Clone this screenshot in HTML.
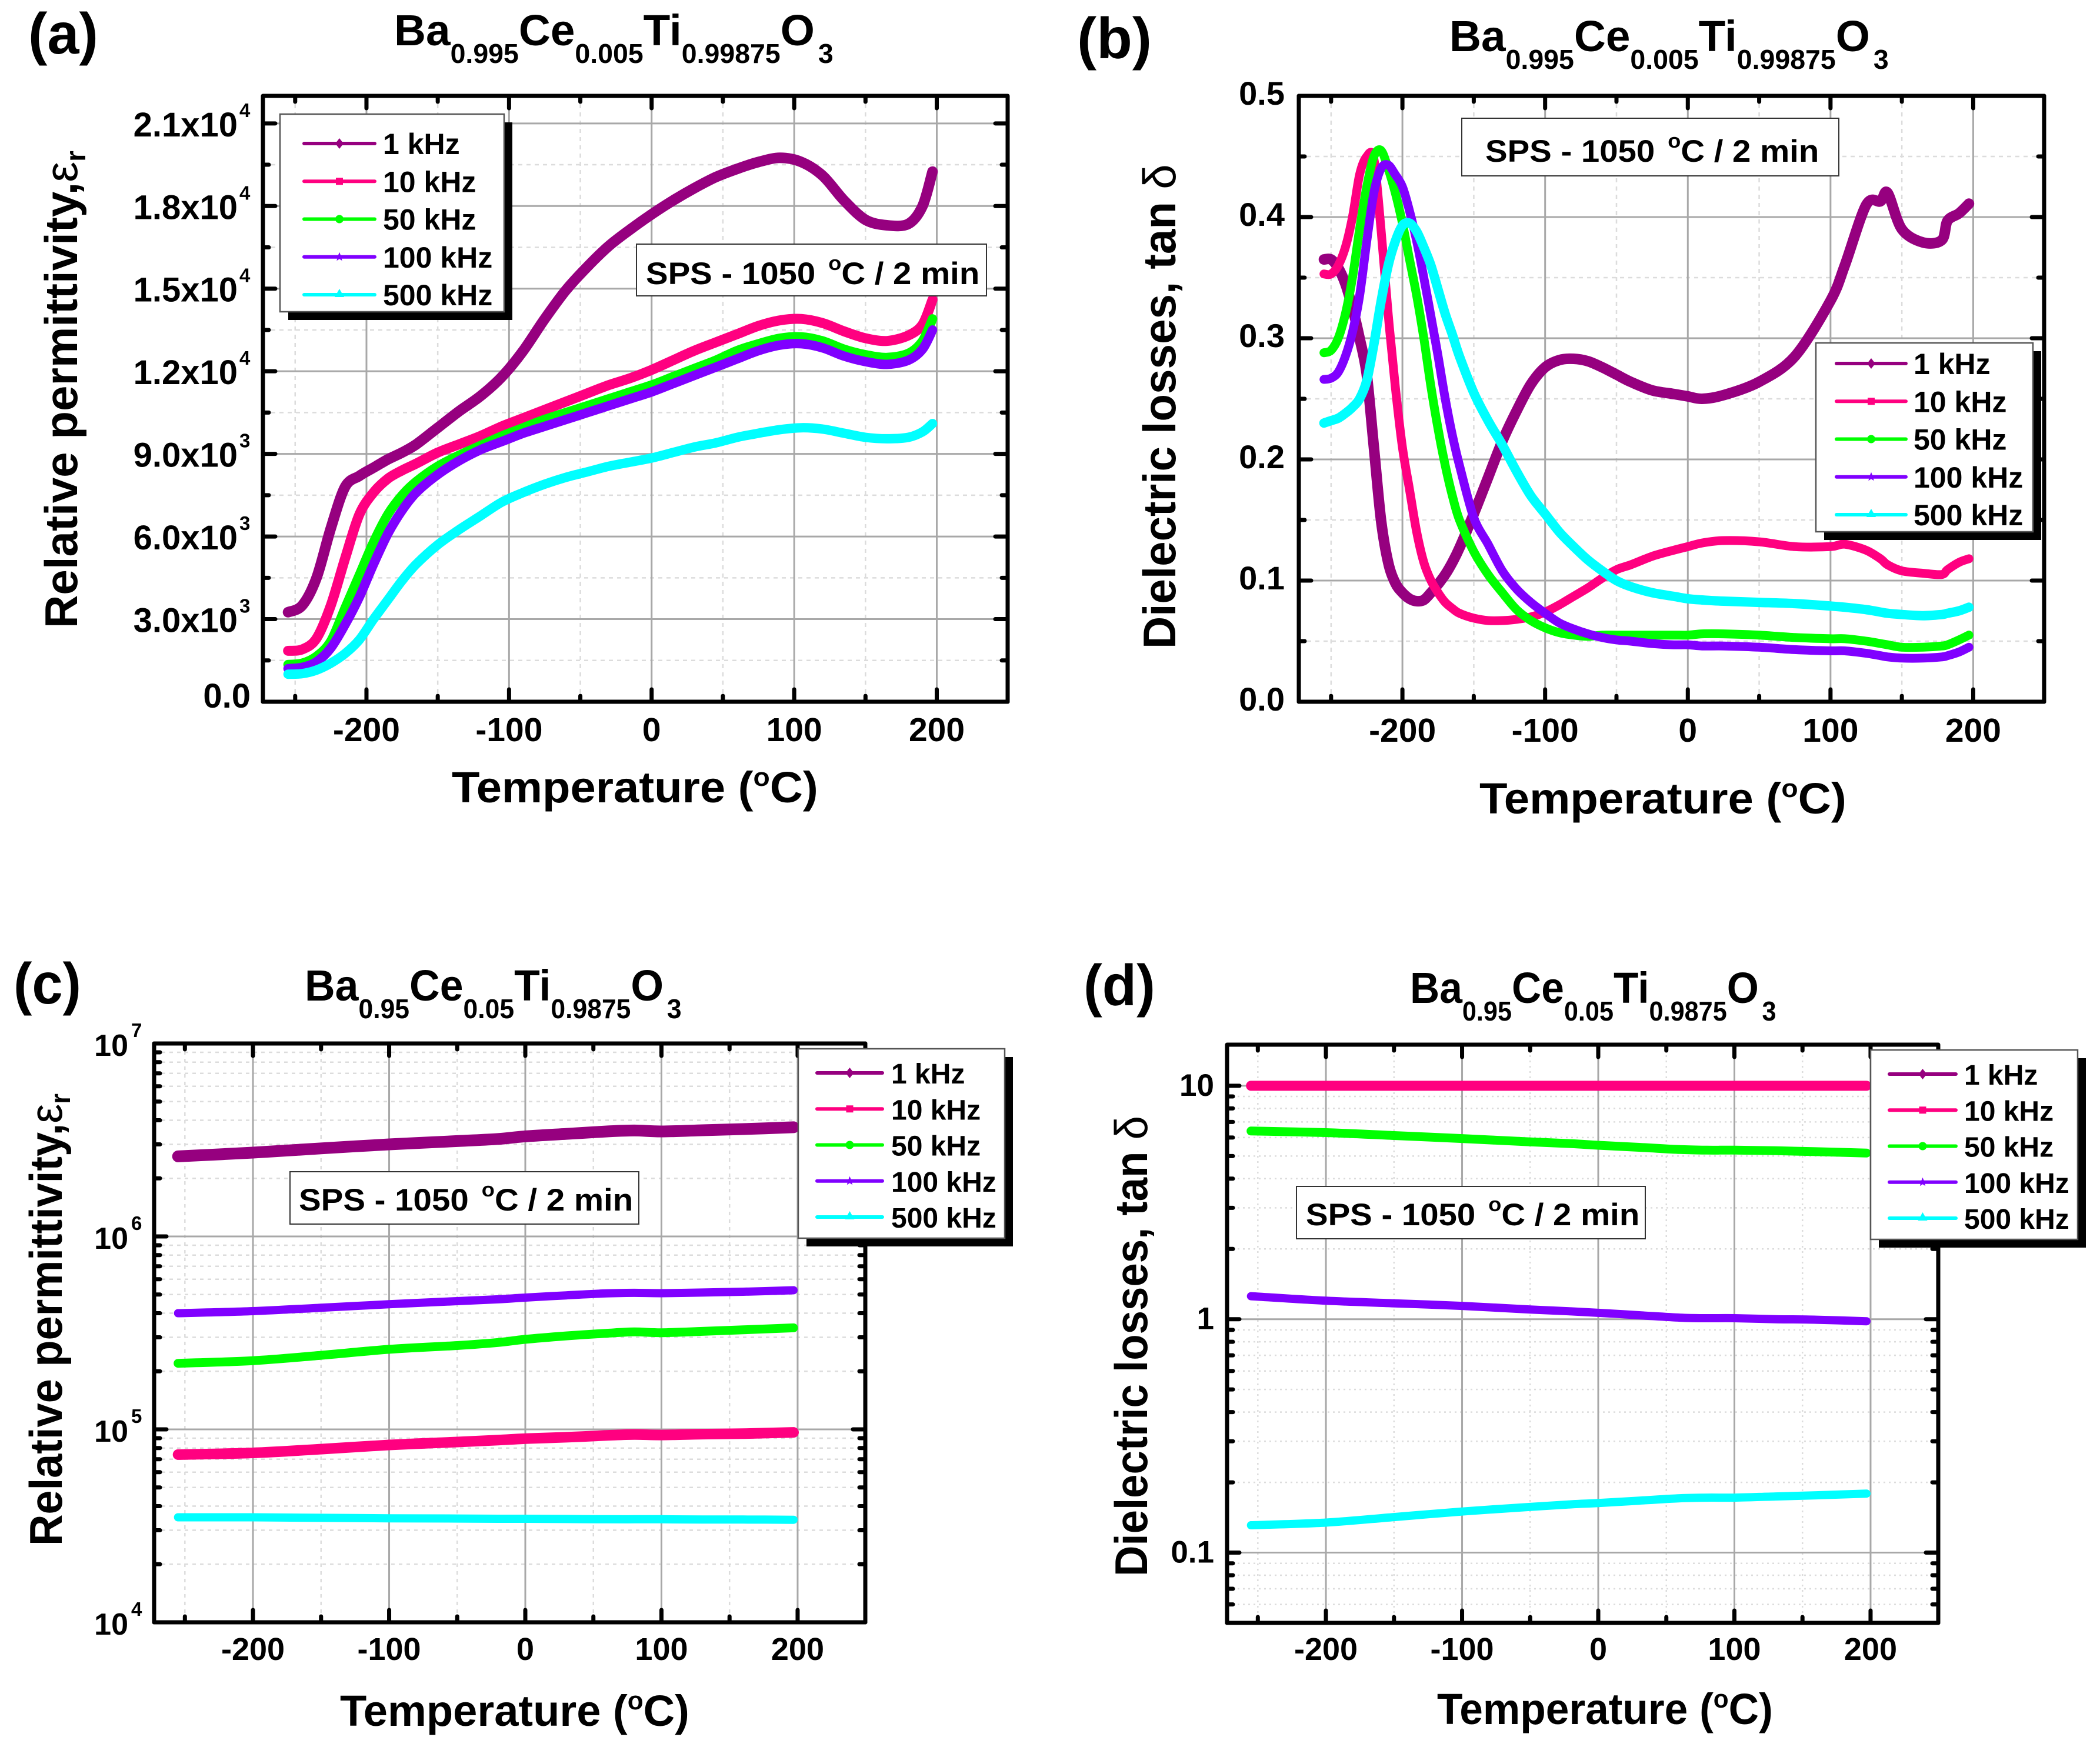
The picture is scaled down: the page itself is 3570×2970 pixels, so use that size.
<!DOCTYPE html>
<html>
<head>
<meta charset="utf-8">
<title>Dielectric properties of Ba-Ce-Ti-O ceramics</title>
<style>
html,body{margin:0;padding:0;background:#fff;}
svg{display:block;}
text{font-family:"Liberation Sans",sans-serif;font-weight:bold;fill:#000;}
.panel-label{font-size:98px;}
.title{font-size:74px;}
.axis-title{font-size:74px;}
.y-title{font-size:78px;}
.sps{font-size:53px;}
.sym{font-weight:normal;}
</style>
</head>
<body>
<svg id="fig" xmlns="http://www.w3.org/2000/svg" width="3570" height="2970" viewBox="0 0 3570 2970">
  <rect x="0" y="0" width="3570" height="2970" fill="#fff"/>
  <g id="plots"></g>

  <text class="panel-label" data-w="119" x="48" y="91">(a)</text>
  <text class="panel-label" data-w="127" x="1831" y="99">(b)</text>
  <text class="panel-label" data-w="115" x="23" y="1706">(c)</text>
  <text class="panel-label" data-w="122" x="1842" y="1709">(d)</text>

  <text class="title" data-w="741" x="670" y="77">Ba<tspan font-size="46" dy="30">0.995</tspan><tspan dy="-30">Ce</tspan><tspan font-size="46" dy="30">0.005</tspan><tspan dy="-30">Ti</tspan><tspan font-size="46" dy="30">0.99875</tspan><tspan dy="-30">O</tspan><tspan font-size="46" dy="30" dx="6">3</tspan></text>
  <text class="title" data-w="741" x="2464" y="87">Ba<tspan font-size="46" dy="30">0.995</tspan><tspan dy="-30">Ce</tspan><tspan font-size="46" dy="30">0.005</tspan><tspan dy="-30">Ti</tspan><tspan font-size="46" dy="30">0.99875</tspan><tspan dy="-30">O</tspan><tspan font-size="46" dy="30" dx="6">3</tspan></text>
  <text class="title" data-w="635" x="518" y="1701">Ba<tspan font-size="46" dy="30">0.95</tspan><tspan dy="-30">Ce</tspan><tspan font-size="46" dy="30">0.05</tspan><tspan dy="-30">Ti</tspan><tspan font-size="46" dy="30">0.9875</tspan><tspan dy="-30">O</tspan><tspan font-size="46" dy="30" dx="6">3</tspan></text>
  <text class="title" data-w="617" x="2397" y="1705">Ba<tspan font-size="46" dy="30">0.95</tspan><tspan dy="-30">Ce</tspan><tspan font-size="46" dy="30">0.05</tspan><tspan dy="-30">Ti</tspan><tspan font-size="46" dy="30">0.9875</tspan><tspan dy="-30">O</tspan><tspan font-size="46" dy="30" dx="6">3</tspan></text>

  <text class="axis-title" data-w="623" x="768" y="1364">Temperature (<tspan font-size="44" dy="-28">o</tspan><tspan dy="28">C)</tspan></text>
  <text class="axis-title" data-w="624" x="2515" y="1383">Temperature (<tspan font-size="44" dy="-28">o</tspan><tspan dy="28">C)</tspan></text>
  <text class="axis-title" data-w="594" x="578" y="2934">Temperature (<tspan font-size="44" dy="-28">o</tspan><tspan dy="28">C)</tspan></text>
  <text class="axis-title" data-w="571" x="2443" y="2931">Temperature (<tspan font-size="44" dy="-28">o</tspan><tspan dy="28">C)</tspan></text>

  <text class="y-title" data-w="812" data-r="-90" x="131" y="1068">Relative permittivity,<tspan class="sym">ε</tspan><tspan font-size="48" dy="14">r</tspan></text>
  <text class="y-title" data-w="824" data-r="-90" x="1998" y="1103">Dielectric losses, tan <tspan class="sym">δ</tspan></text>
  <text class="y-title" data-w="769" data-r="-90" x="105" y="2628">Relative permittivity,<tspan class="sym">ε</tspan><tspan font-size="48" dy="14">r</tspan></text>
  <text class="y-title" data-w="783" data-r="-90" x="1950" y="2680">Dielectric losses, tan <tspan class="sym">δ</tspan></text>

  <g>
    <rect x="1082" y="415" width="595" height="88" fill="#fff" stroke="#333" stroke-width="2"/>
    <text class="sps" data-w="561" x="1098" y="483">SPS - 1050 <tspan font-size="34" dy="-24" dx="6">o</tspan><tspan dy="24">C / 2 min</tspan></text>
  </g>
  <g>
    <rect x="2485" y="201" width="641" height="98" fill="#fff" stroke="#333" stroke-width="2"/>
    <text class="sps" data-w="561" x="2525" y="275">SPS - 1050 <tspan font-size="34" dy="-24" dx="6">o</tspan><tspan dy="24">C / 2 min</tspan></text>
  </g>
  <g>
    <rect x="493" y="1992" width="593" height="89" fill="#fff" stroke="#333" stroke-width="2"/>
    <text class="sps" data-w="562" x="508" y="2058">SPS - 1050 <tspan font-size="34" dy="-24" dx="6">o</tspan><tspan dy="24">C / 2 min</tspan></text>
  </g>
  <g>
    <rect x="2204" y="2017" width="593" height="89" fill="#fff" stroke="#333" stroke-width="2"/>
    <text class="sps" data-w="561" x="2220" y="2083">SPS - 1050 <tspan font-size="34" dy="-24" dx="6">o</tspan><tspan dy="24">C / 2 min</tspan></text>
  </g>
</svg>

<script>
// ---------- shared ----------
const frequencyLabels = ['1 kHz', '10 kHz', '50 kHz', '100 kHz', '500 kHz'];
const seriesColors = ['#96007f', '#ff0080', '#00ff00', '#8000ff', '#00ffff'];
const xTickLabels = [-200, -100, 0, 100, 200];
const xMinorTicks = [-250, -150, -50, 50, 150];

// ---------- panel (a) ----------
const tempA = [-255,-245,-235,-225,-215,-205,-195,-185,-175,-165,-150,-135,-120,-105,-90,-75,-60,-45,-30,-15,0,15,30,45,60,75,90,105,120,135,150,165,180,190,197];
const a1k = [3250,3500,4500,6300,7800,8200,8500,8800,9050,9350,9950,10550,11100,11800,12750,13900,14950,15800,16550,17150,17700,18200,18650,19050,19350,19600,19750,19600,19100,18200,17500,17300,17350,18000,19250];
const a10k = [1850,1900,2300,3500,5200,6800,7600,8100,8400,8650,9050,9350,9650,10000,10300,10600,10900,11200,11500,11750,12050,12400,12750,13050,13350,13650,13850,13900,13750,13450,13200,13100,13300,13700,14600];
const a50k = [1350,1400,1650,2200,3400,4600,5800,6800,7500,8000,8550,8950,9300,9650,9950,10250,10500,10750,11000,11250,11500,11800,12100,12400,12750,13000,13200,13250,13100,12800,12600,12500,12650,13100,13900];
const a100k = [1200,1250,1450,1950,2800,3800,5000,6100,6950,7600,8250,8750,9150,9450,9750,10000,10250,10500,10750,11000,11250,11550,11850,12150,12450,12750,12950,13000,12850,12550,12350,12250,12400,12800,13500];
const a500k = [1000,1020,1150,1400,1750,2250,3000,3700,4400,5000,5700,6250,6750,7250,7600,7900,8150,8350,8550,8700,8850,9050,9250,9400,9600,9750,9880,9950,9900,9750,9600,9550,9600,9800,10100];
const aMajorTicks = [0,3000,6000,9000,12000,15000,18000,21000];
const aMinorTicks = [1500,4500,7500,10500,13500,16500,19500];
const aTickMantissa = ['0.0','3.0x10','6.0x10','9.0x10','1.2x10','1.5x10','1.8x10','2.1x10'];
const aTickExponent = ['','3','3','3','4','4','4','4'];

// ---------- panel (b) ----------
const tempB = [-255,-250,-245,-240,-235,-230,-225,-220,-215,-210,-205,-200,-195,-190,-185,-180,-175,-170,-165,-160,-150,-140,-130,-120,-110,-100,-90,-80,-70,-60,-50,-40,-25,-10,0,10,25,50,75,100,110,125,135,140,150,165,178,182,190,197];
const b1k = [.365,.365,.358,.345,.325,.30,.27,.21,.15,.115,.098,.09,.085,.083,.084,.09,.097,.105,.115,.127,.155,.185,.215,.24,.262,.276,.282,.283,.281,.276,.27,.264,.257,.254,.252,.25,.253,.264,.285,.331,.36,.41,.413,.42,.39,.379,.381,.397,.403,.411];
const b10k = [.353,.353,.36,.375,.40,.435,.45,.448,.39,.32,.26,.21,.175,.14,.115,.10,.09,.082,.077,.073,.069,.067,.067,.068,.07,.074,.08,.087,.094,.102,.109,.113,.12,.125,.128,.131,.133,.132,.128,.128,.13,.125,.118,.113,.108,.106,.105,.109,.115,.118];
const b50k = [.288,.29,.30,.32,.35,.39,.425,.45,.455,.44,.42,.395,.365,.335,.30,.26,.225,.195,.17,.15,.124,.105,.09,.076,.067,.061,.057,.055,.054,.055,.055,.055,.055,.055,.055,.056,.056,.055,.053,.052,.052,.05,.048,.047,.045,.045,.046,.047,.051,.055];
const b100k = [.266,.267,.272,.285,.305,.335,.38,.42,.44,.443,.435,.425,.405,.38,.35,.318,.285,.25,.22,.195,.152,.13,.108,.093,.082,.073,.065,.06,.056,.053,.051,.05,.048,.047,.047,.046,.046,.045,.043,.042,.042,.04,.038,.037,.036,.036,.037,.038,.041,.045];
const b500k = [.23,.232,.234,.238,.243,.25,.265,.295,.33,.36,.38,.393,.395,.388,.375,.36,.34,.32,.303,.285,.255,.232,.212,.19,.17,.155,.14,.128,.117,.108,.10,.095,.09,.087,.085,.084,.083,.082,.081,.079,.078,.076,.074,.073,.072,.071,.072,.073,.075,.078];
const bMajorTicks = [0,.1,.2,.3,.4,.5];
const bMinorTicks = [.05,.15,.25,.35,.45];
const bTickLabels = ['0.0','0.1','0.2','0.3','0.4','0.5'];

// ---------- panel (c) ----------
const tempC = [-255,-200,-150,-100,-50,-20,0,30,60,80,100,130,160,197];
const c1k = [2.6e6,2.72e6,2.86e6,3.0e6,3.12e6,3.2e6,3.3e6,3.4e6,3.5e6,3.54e6,3.5e6,3.55e6,3.6e6,3.68e6];
const c10k = [7.4e4,7.55e4,7.9e4,8.3e4,8.6e4,8.8e4,8.95e4,9.1e4,9.3e4,9.4e4,9.35e4,9.45e4,9.5e4,9.65e4];
const c50k = [2.2e5,2.27e5,2.42e5,2.6e5,2.72e5,2.82e5,2.93e5,3.05e5,3.15e5,3.2e5,3.17e5,3.22e5,3.28e5,3.36e5];
const c100k = [4.0e5,4.1e5,4.27e5,4.45e5,4.62e5,4.72e5,4.82e5,4.95e5,5.07e5,5.1e5,5.08e5,5.12e5,5.17e5,5.26e5];
const c500k = [3.5e4,3.5e4,3.48e4,3.46e4,3.45e4,3.44e4,3.44e4,3.43e4,3.42e4,3.42e4,3.42e4,3.41e4,3.41e4,3.4e4];
const cMajorTicks = [1e4,1e5,1e6,1e7];
const cMinorTicks = [2e4,3e4,4e4,5e4,6e4,7e4,8e4,9e4,2e5,3e5,4e5,5e5,6e5,7e5,8e5,9e5,2e6,3e6,4e6,5e6,6e6,7e6,8e6,9e6];
const cTickMantissa = ['10','10','10','10'];
const cTickExponent = ['4','5','6','7'];

// ---------- panel (d) ----------
const tempD = [-255,-200,-150,-100,-50,-20,0,30,60,80,100,130,160,197];
const d1k = [10,10,10,10,10,10,10,10,10,10,10,10,10,10];
const d10k = [10,10,10,10,10,10,10,10,10,10,10,10,10,10];
const d50k = [6.4,6.3,6.12,5.94,5.75,5.65,5.56,5.45,5.33,5.3,5.3,5.27,5.22,5.15];
const d100k = [1.255,1.2,1.17,1.14,1.1,1.08,1.065,1.04,1.015,1.01,1.01,1.0,0.995,0.98];
const d500k = [.131,.1345,.142,.15,.157,.161,.163,.167,.171,.172,.172,.174,.176,.179];
const dMajorTicks = [.1,1,10];
const dMinorTicks = [.05,.06,.07,.08,.09,.2,.3,.4,.5,.6,.7,.8,.9,2,3,4,5,6,7,8,9];
const dTickLabels = ['0.1','1','10'];

// ---------- drawing ----------
const NS = 'http://www.w3.org/2000/svg';
const plots = document.getElementById('plots');

function mk(tag, attrs, parent) {
  const e = document.createElementNS(NS, tag);
  for (const k in attrs) e.setAttribute(k, attrs[k]);
  parent.appendChild(e);
  return e;
}

function smoothPath(pts) {
  let d = 'M' + pts[0][0].toFixed(1) + ' ' + pts[0][1].toFixed(1);
  for (let i = 0; i < pts.length - 1; i++) {
    const p0 = pts[Math.max(0, i - 1)], p1 = pts[i], p2 = pts[i + 1], p3 = pts[Math.min(pts.length - 1, i + 2)];
    const k = 0.16;
    const c1x = p1[0] + (p2[0] - p0[0]) * k, c1y = p1[1] + (p2[1] - p0[1]) * k;
    const c2x = p2[0] - (p3[0] - p1[0]) * k, c2y = p2[1] - (p3[1] - p1[1]) * k;
    d += 'C' + c1x.toFixed(1) + ' ' + c1y.toFixed(1) + ' ' + c2x.toFixed(1) + ' ' + c2y.toFixed(1) + ' ' + p2[0].toFixed(1) + ' ' + p2[1].toFixed(1);
  }
  return d;
}

function markerShape(i, cx, cy, color, parent) {
  let e;
  if (i === 0) e = mk('polygon', {points: [cx, cy - 9, cx + 7, cy, cx, cy + 9, cx - 7, cy].join(' '), fill: color}, parent);
  else if (i === 1) e = mk('rect', {x: cx - 6, y: cy - 6, width: 12, height: 12, fill: color}, parent);
  else if (i === 2) e = mk('circle', {cx: cx, cy: cy, r: 7, fill: color}, parent);
  else if (i === 3) {
    const p = [];
    for (let a = 0; a < 10; a++) {
      const r = a % 2 ? 3.5 : 8, t = -Math.PI / 2 + a * Math.PI / 5;
      p.push((cx + r * Math.cos(t)).toFixed(1), (cy + r * Math.sin(t)).toFixed(1));
    }
    e = mk('polygon', {points: p.join(' '), fill: color}, parent);
  } else e = mk('polygon', {points: [cx, cy - 10, cx + 8, cy + 4, cx - 8, cy + 4].join(' '), fill: color}, parent);
  
  
}

function drawPanel(cfg) {
  const f = cfg.frame;
  const g = mk('g', {}, plots);
  
  

  const xs = T => f.l + (T - cfg.xDomain[0]) * (f.r - f.l) / (cfg.xDomain[1] - cfg.xDomain[0]);
  const tr = cfg.log ? Math.log10 : (v => v);
  const y0 = tr(cfg.yDomain[0]), y1 = tr(cfg.yDomain[1]);
  const ys = v => f.b - (tr(v) - y0) * (f.b - f.t) / (y1 - y0);

  // gridlines
  xMinorTicks.forEach(T => {
    const l = mk('line', {x1: xs(T), x2: xs(T), y1: f.t, y2: f.b, stroke: '#dcdcdc', 'stroke-width': 2.5, 'stroke-dasharray': cfg.minorDash}, g);
    
    
  });
  cfg.yMinor.forEach(v => {
    const l = mk('line', {x1: f.l, x2: f.r, y1: ys(v), y2: ys(v), stroke: '#dcdcdc', 'stroke-width': 2.5, 'stroke-dasharray': cfg.minorDash}, g);
    
    
  });
  xTickLabels.forEach(T => {
    const l = mk('line', {x1: xs(T), x2: xs(T), y1: f.t, y2: f.b, stroke: '#a8a8a8', 'stroke-width': 3}, g);
    
    
  });
  cfg.yMajor.forEach(v => {
    const l = mk('line', {x1: f.l, x2: f.r, y1: ys(v), y2: ys(v), stroke: '#a8a8a8', 'stroke-width': 3}, g);
    
    
  });

  // series
  cfg.series.forEach((vals, i) => {
    const pts = vals.map((v, k) => [xs(cfg.temps[k]), ys(v)]);
    const p = mk('path', {d: smoothPath(pts), fill: 'none', stroke: seriesColors[i], 'stroke-width': cfg.widths[i], 'stroke-linejoin': 'round', 'stroke-linecap': 'round'}, g);
    
    
  });

  // frame
  const frame = mk('rect', {x: f.l, y: f.t, width: f.r - f.l, height: f.b - f.t, fill: 'none', stroke: '#000', 'stroke-width': 7, 'stroke-linejoin': 'round'}, g);
  
  

  // ticks (inward, on all four sides)
  function xTick(T, len, name) {
    [[f.b, -1], [f.t, 1]].forEach(s => {
      const l = mk('line', {x1: xs(T), x2: xs(T), y1: s[0], y2: s[0] + s[1] * len, stroke: '#000', 'stroke-width': 7, 'stroke-linecap': 'round'}, g);
      
      
    });
  }
  function yTick(v, len, name) {
    [[f.l, 1], [f.r, -1]].forEach(s => {
      const l = mk('line', {x1: s[0], x2: s[0] + s[1] * len, y1: ys(v), y2: ys(v), stroke: '#000', 'stroke-width': 7, 'stroke-linecap': 'round'}, g);
      
      
    });
  }
  xMinorTicks.forEach(T => xTick(T, 10, 'x-minor-tick'));
  xTickLabels.forEach(T => xTick(T, 21, 'x-major-tick'));
  cfg.yMinor.forEach(v => yTick(v, 10, 'y-minor-tick'));
  cfg.yMajor.forEach(v => yTick(v, 21, 'y-major-tick'));

  // x tick labels
  xTickLabels.forEach(T => {
    const t = mk('text', {x: xs(T), y: cfg.xLabelY, 'text-anchor': 'middle', 'font-size': cfg.xLabelSize}, g);
    t.textContent = String(T);
    
    
  });

  // y tick labels
  cfg.yMajor.forEach((v, i) => {
    const t = mk('text', {'text-anchor': 'end', 'font-size': cfg.yLabelSize, x: cfg.yLabelX, y: ys(v) + cfg.yLabelDy + ((cfg.yLabelOffsets && cfg.yLabelOffsets[i]) || 0)}, g);
    t.textContent = cfg.yLabels[i];
    const exp = cfg.yExp ? cfg.yExp[i] : '';
    if (exp) {
      t.setAttribute('x', cfg.yLabelX - cfg.expWidth);
      const s = mk('text', {x: cfg.yLabelX - cfg.expWidth + cfg.expGap, y: ys(v) - 11, 'font-size': 33}, g);
      s.textContent = exp;
      
      
    }
    
    
  });

  // legend
  const L = cfg.legend;
  const leg = mk('g', {}, g);
  
  
  const sh = mk('rect', {x: L.x + 14, y: L.y + 14, width: L.w, height: L.h, fill: '#000'}, leg);
  
  
  const box = mk('rect', {x: L.x, y: L.y, width: L.w, height: L.h, fill: '#fff', stroke: '#555', 'stroke-width': 2.5}, leg);
  
  
  frequencyLabels.forEach((lab, i) => {
    const ry = L.rowY + i * L.rowH;
    const ln = mk('line', {x1: L.lineX, x2: L.lineX + L.lineW, y1: ry, y2: ry, stroke: seriesColors[i], 'stroke-width': 6, 'stroke-linecap': 'round'}, leg);
    
    
    markerShape(i, L.lineX + L.lineW / 2, ry, seriesColors[i], leg);
    const t = mk('text', {x: L.textX, y: ry + 18, 'font-size': L.font}, leg);
    t.textContent = lab;
    
    
  });
}

const xAxisDomain = [-272.6, 249.7];

drawPanel({
  id: 'a', frame: {l: 447, r: 1713, t: 163, b: 1193}, xDomain: xAxisDomain, yDomain: [0, 22000], log: false,
  temps: tempA, series: [a1k, a10k, a50k, a100k, a500k], widths: [18, 17, 16, 16, 16], minorDash: '7 7',
  yMajor: aMajorTicks, yMinor: aMinorTicks, yLabels: aTickMantissa, yExp: aTickExponent, yLabelOffsets: [-12,0,0,0,0,0,0,0],
  yLabelX: 426, expWidth: 22, expGap: 3, yLabelDy: 22, yLabelSize: 58, xLabelY: 1260, xLabelSize: 57,
  legend: {x: 476, y: 194, w: 381, h: 336, rowY: 244, rowH: 64.25, lineX: 517, lineW: 120, textX: 651, font: 50}
});
drawPanel({
  id: 'b', frame: {l: 2208, r: 3475, t: 163, b: 1193}, xDomain: xAxisDomain, yDomain: [0, .5], log: false,
  temps: tempB, series: [b1k, b10k, b50k, b100k, b500k], widths: [18, 15, 15, 15, 16], minorDash: '7 7',
  yMajor: bMajorTicks, yMinor: bMinorTicks, yLabels: bTickLabels,
  yLabelX: 2184, expWidth: 0, expGap: 0, yLabelDy: 15, yLabelSize: 56, xLabelY: 1261, xLabelSize: 57,
  legend: {x: 3087, y: 583, w: 369, h: 321, rowY: 618, rowH: 64.25, lineX: 3122, lineW: 118, textX: 3253, font: 50}
});
drawPanel({
  id: 'c', frame: {l: 262, r: 1471, t: 1774, b: 2758}, xDomain: xAxisDomain, yDomain: [1e4, 1e7], log: true,
  temps: tempC, series: [c1k, c10k, c50k, c100k, c500k], widths: [20, 18, 15, 14, 14], minorDash: '6 7',
  yMajor: cMajorTicks, yMinor: cMinorTicks, yLabels: cTickMantissa, yExp: cTickExponent,
  yLabelX: 243, expWidth: 25, expGap: 5, yLabelDy: 21, yLabelSize: 52, xLabelY: 2822, xLabelSize: 54,
  legend: {x: 1357, y: 1783, w: 351, h: 322, rowY: 1824, rowH: 61.25, lineX: 1389, lineW: 111, textX: 1515, font: 48}
});
drawPanel({
  id: 'd', frame: {l: 2086, r: 3295, t: 1776, b: 2759}, xDomain: xAxisDomain, yDomain: [.05, 15], log: true,
  temps: tempD, series: [d1k, d10k, d50k, d100k, d500k], widths: [16, 17, 15, 14, 14], minorDash: '3 6',
  yMajor: dMajorTicks, yMinor: dMinorTicks, yLabels: dTickLabels,
  yLabelX: 2064, expWidth: 0, expGap: 0, yLabelDy: 17, yLabelSize: 53, xLabelY: 2822, xLabelSize: 54,
  legend: {x: 3180, y: 1785, w: 352, h: 322, rowY: 1826, rowH: 61.25, lineX: 3212, lineW: 113, textX: 3339, font: 48}
});

// stretch the static labels to their measured widths
document.querySelectorAll('text[data-w]').forEach(t => {
  const len = t.getComputedTextLength();
  const w = +t.getAttribute('data-w');
  const x = t.getAttribute('x'), y = t.getAttribute('y');
  const r = t.getAttribute('data-r') || 0;
  t.setAttribute('x', 0);
  t.setAttribute('y', 0);
  t.setAttribute('transform', 'translate(' + x + ' ' + y + ') rotate(' + r + ') scale(' + (w / len).toFixed(4) + ' 1)');
});
</script>
</body>
</html>
